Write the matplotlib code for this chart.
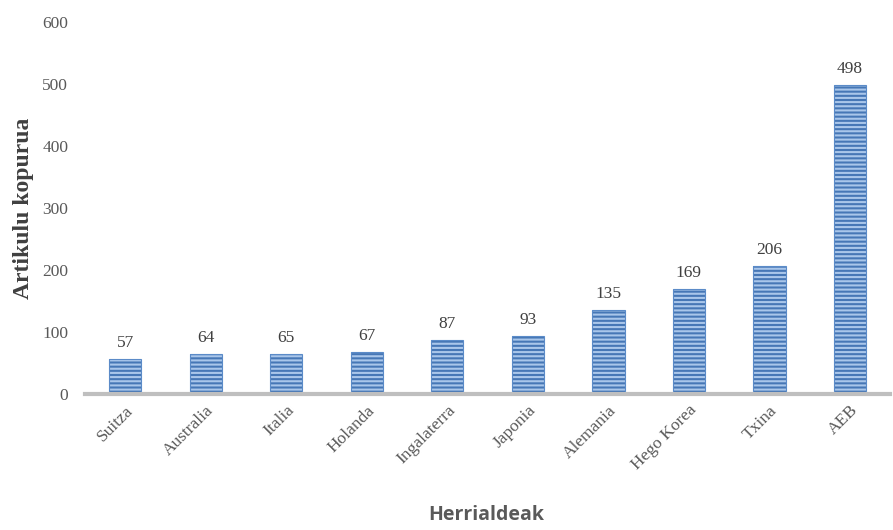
import matplotlib.pyplot as plt

# Article counts per country
herrialdeak = ['Suitza', 'Australia', 'Italia', 'Holanda', 'Ingalaterra',
               'Japonia', 'Alemania', 'Hego Korea', 'Txina', 'AEB']
artikuluak = [57, 64, 65, 67, 87, 93, 135, 169, 206, 498]

plt.rcParams['hatch.color'] = '#a9c6ea'
plt.rcParams['hatch.linewidth'] = 1.5

fig = plt.figure(figsize=(8.93, 5.3), dpi=100)
ax = fig.add_axes([0.095, 0.2566, 0.902, 0.7019])

bars = ax.bar(range(len(herrialdeak)), artikuluak, width=0.4,
              color='#4677b6', edgecolor='#a9c6ea', hatch='----', linewidth=0)
ax.bar(range(len(herrialdeak)), artikuluak, width=0.4,
       facecolor='none', edgecolor='#5b8bc8', linewidth=0.8)

for rect, val in zip(bars, artikuluak):
    ax.text(rect.get_x() + rect.get_width() / 2, val + 13, str(val),
            ha='center', va='bottom', fontsize=12.5, color='#404040',
            family='Liberation Serif')

ax.set_xlim(-0.5, len(herrialdeak) - 0.5)
ax.set_ylim(0, 600)
ax.set_yticks(range(0, 601, 100))

for side in ['top', 'right', 'left']:
    ax.spines[side].set_visible(False)
ax.spines['bottom'].set_color('#bfbfbf')
ax.spines['bottom'].set_linewidth(3)

ax.tick_params(axis='both', length=0, labelcolor='#595959', labelsize=12.5)
ax.tick_params(axis='y', pad=12)
ax.tick_params(axis='x', pad=6)
ax.set_xticks(range(len(herrialdeak)))
ax.set_xticklabels(herrialdeak, rotation=45, ha='right', rotation_mode='anchor',
                   family='Liberation Serif')
for lbl in ax.get_yticklabels():
    lbl.set_family('Liberation Serif')

ax.set_ylabel('Artikulu kopurua', family='Liberation Serif', fontsize=17,
              fontweight='bold', color='#404040', labelpad=6)
fig.text(0.545, 0.01, 'Herrialdeak', ha='center', va='bottom',
         family='Open Sans', fontsize=14, fontweight='bold', color='#595959')

fig.savefig('out.png', dpi=100)
